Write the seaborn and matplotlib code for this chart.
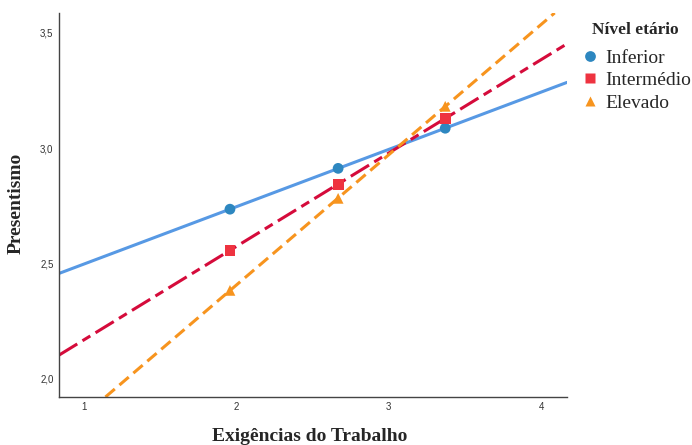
import numpy as np
import pandas as pd
import matplotlib
matplotlib.use("Agg")
import matplotlib.pyplot as plt
import seaborn as sns

# valores
grupos = ["Inferior", "Intermédio", "Elevado"]
exigencias = [1.958, 2.668, 3.371]
pres_inferior = [2.736, 2.913, 3.087]
pres_intermedio = [2.558, 2.844, 3.130]
pres_elevado = [2.384, 2.783, 3.182]

cores_linha = {"Inferior": "#5799E4", "Intermédio": "#D50B3B", "Elevado": "#F7941E"}
cores_ponto = {"Inferior": "#2D87C0", "Intermédio": "#EE3340", "Elevado": "#F7941E"}
estilos = {"Inferior": "-", "Intermédio": (0, (7, 2, 3, 2)), "Elevado": (0, (4, 2))}
marcadores = {"Inferior": "o", "Intermédio": "s", "Elevado": "^"}

df = pd.DataFrame({
    "x": exigencias * 3,
    "y": pres_inferior + pres_intermedio + pres_elevado,
    "nivel": [g for g in grupos for _ in exigencias],
})

sns.set_style("white")
fig = plt.figure(figsize=(6.92, 4.45), dpi=100)
ax = fig.add_axes([0.0853, 0.108, 0.734, 0.863])

ax.set_xlim(0.836, 4.17)
ax.set_ylim(1.922, 3.587)

# retas de regressão por grupo
for g in grupos:
    sub = df[df["nivel"] == g]
    b, a = np.polyfit(sub["x"], sub["y"], 1)
    ax.axline((0, a), slope=b, color=cores_linha[g], linestyle=estilos[g],
              linewidth=2.2, zorder=2)

sns.scatterplot(data=df, x="x", y="y", hue="nivel", style="nivel",
                palette=cores_ponto, markers=marcadores, s=60,
                edgecolor="none", ax=ax, zorder=3, legend=True)

ax.set_xticks([1, 2, 3, 4])
ax.set_xticklabels(["1", "2", "3", "4"])
ax.set_yticks([2.0, 2.5, 3.0, 3.5])
ax.set_yticklabels(["2,0", "2,5", "3,0", "3,5"])
ax.tick_params(axis="both", length=0, labelsize=7, colors="#333333", pad=4)
for lbl in ax.get_xticklabels() + ax.get_yticklabels():
    lbl.set_fontfamily("Liberation Sans")

for s in ["top", "right"]:
    ax.spines[s].set_visible(False)
for s in ["left", "bottom"]:
    ax.spines[s].set_color("#444444")
    ax.spines[s].set_linewidth(1.0)

ax.set_xlabel("Exigências do Trabalho", fontfamily="Liberation Serif",
              fontweight="bold", fontsize=14)
ax.set_ylabel("Presentismo", fontfamily="Liberation Serif",
              fontweight="bold", fontsize=14)
ax.xaxis.set_label_coords(0.494, -0.081)
ax.yaxis.set_label_coords(-0.067, 0.505)

handles, labels = ax.get_legend_handles_labels()
ax.get_legend().remove()
leg = fig.legend(handles, labels, title="Nível etário", loc="upper left",
                 bbox_to_anchor=(580 / 692, 1 - 22 / 445), frameon=False,
                 prop={"family": "Liberation Serif", "size": 14},
                 handlelength=1.0, handletextpad=0.3, labelspacing=0.25,
                 borderaxespad=0, borderpad=0)
leg.get_title().set_fontfamily("Liberation Serif")
leg.get_title().set_fontweight("bold")
leg.get_title().set_fontsize(12.5)
leg._legend_box.sep = 8

fig.savefig("out.png", dpi=100)
